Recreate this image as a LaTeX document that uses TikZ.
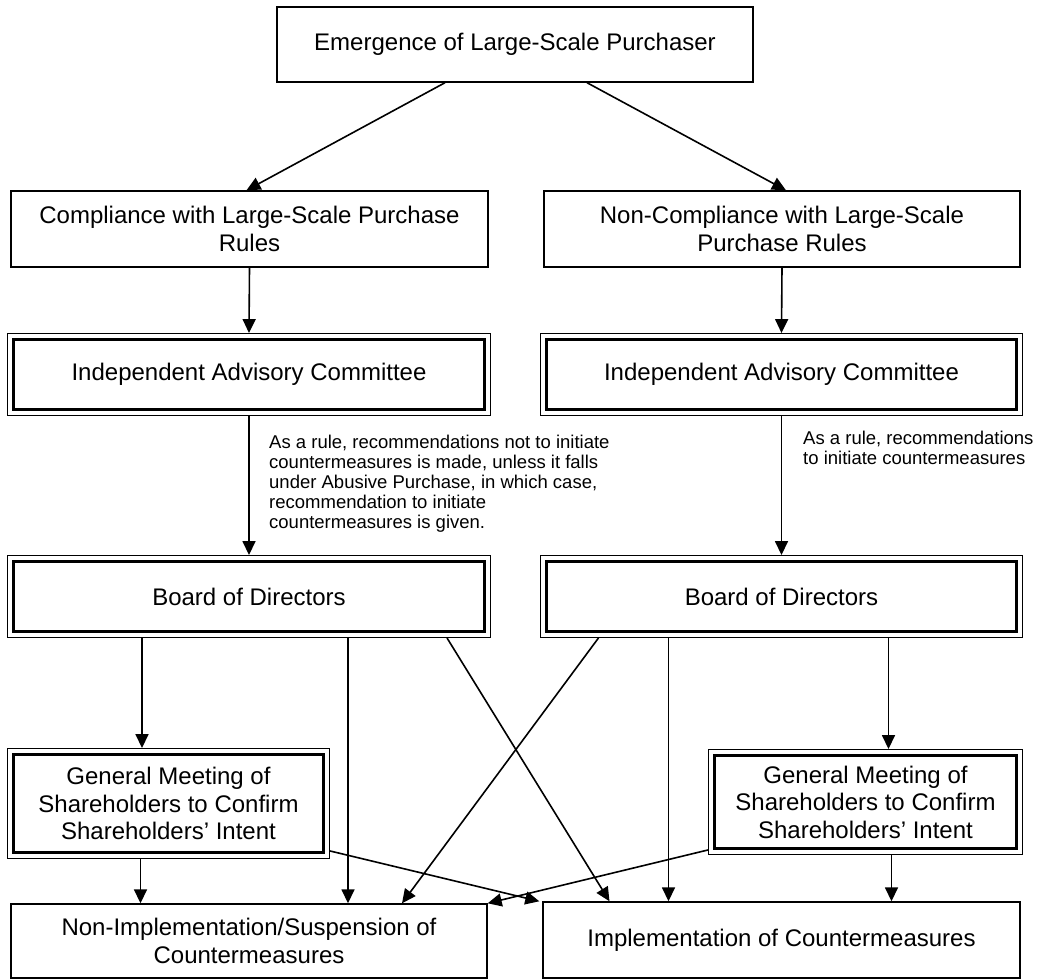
\documentclass[tikz,border=0pt]{standalone}
\usepackage{fontspec}
\setmainfont{Liberation Sans}
\usetikzlibrary{arrows.meta}
\newcommand{\boxfont}{\fontsize{24}{27.5}\selectfont}
\newcommand{\notefont}{\fontsize{18.5}{20}\selectfont}
\tikzset{
  box/.style={draw, line width=1.4pt, inner sep=0pt, align=center, font=\boxfont},
  dbox/.style={box, line width=2.6pt, outer sep=6.6pt},
  frame/.style={line width=1.3pt},
  arr/.style={-{Triangle[length=14pt,width=13pt]}, line width=1.6pt}
}
\begin{document}
\begin{tikzpicture}[x=1pt, y=-1pt]
            \useasboundingbox (0,0) rectangle (1037,979);
            \node[box,  minimum width=476pt,   minimum height=75pt]   (start) at (515.0, 44.5) {Emergence of Large-Scale Purchaser};
            \node[box,  minimum width=477pt,   minimum height=76pt]   (cmpL)  at (249.5,229.0) {Compliance with Large-Scale Purchase\\Rules};
            \node[box,  minimum width=476pt,   minimum height=76pt]   (cmpR)  at (782.0,229.0) {Non-Compliance with Large-Scale\\Purchase Rules};
            \node[dbox, minimum width=470.7pt, minimum height=69.7pt] (iacL)  at (249.0,374.5) {Independent Advisory Committee};
            \node[dbox, minimum width=469.7pt, minimum height=69.7pt] (iacR)  at (781.5,374.5) {Independent Advisory Committee};
            \node[dbox, minimum width=470.7pt, minimum height=69.7pt] (bodL)  at (249.0,596.5) {Board of Directors};
            \node[dbox, minimum width=469.7pt, minimum height=69.7pt] (bodR)  at (781.5,596.5) {Board of Directors};
            \node[dbox, minimum width=309.7pt, minimum height=97.7pt] (gmsL)  at (168.5,803.5) {General Meeting of\\Shareholders to Confirm\\Shareholders’ Intent};
            \node[dbox, minimum width=301.7pt, minimum height=92.7pt] (gmsR)  at (865.5,802.0) {General Meeting of\\Shareholders to Confirm\\Shareholders’ Intent};
            \node[box,  minimum width=476pt,   minimum height=74pt]   (nimL)  at (249.0,941.0) {Non-Implementation/Suspension of\\Countermeasures};
            \node[box,  minimum width=477pt,   minimum height=76pt]   (impR)  at (781.5,940.0) {Implementation of Countermeasures};
            \foreach \n in {iacL,iacR,bodL,bodR,gmsL,gmsR}
              \draw[frame] ([xshift=0.65pt,yshift=-0.65pt]\n.north west) rectangle ([xshift=-0.65pt,yshift=0.65pt]\n.south east);
            \node[anchor=north west, inner sep=0pt, align=left, font=\notefont] (noteL) at (269,435)
                 {As a rule, recommendations not to initiate\\countermeasures is made, unless it falls\\under Abusive Purchase, in which case,\\recommendation to initiate\\countermeasures is given.};
            \node[anchor=north west, inner sep=0pt, align=left, font=\notefont] (noteR) at (803,431)
                 {As a rule, recommendations\\to initiate countermeasures};
            \draw[arr] ([xshift=-70pt]start.south) -- ([xshift=-3pt]cmpL.north);
            \draw[arr] ([xshift=72pt]start.south)  -- ([xshift=4pt]cmpR.north);
            \draw[arr] (cmpL.south) -- (iacL.north);
            \draw[arr] (cmpR.south) -- (iacR.north);
            \draw[arr] (iacL.south) -- (bodL.north);
            \draw[arr] (iacR.south) -- (bodR.north);
            \draw[arr] ([xshift=-107pt]bodL.south) coordinate (p1) -- (p1 |- gmsL.north);
            \draw[arr] ([xshift=99pt]bodL.south)   coordinate (p2) -- (p2 |- nimL.north);
            \draw[arr] ([xshift=198pt]bodL.south)  -- ([xshift=-172pt]impR.north);
            \draw[arr] ([xshift=-183pt]bodR.south) -- ([xshift=153pt]nimL.north);
            \draw[arr] ([xshift=-113pt]bodR.south) coordinate (p3) -- (p3 |- impR.north);
            \draw[arr] ([xshift=107pt]bodR.south)  coordinate (p4) -- (p4 |- gmsR.north);
            \draw[arr] ([xshift=-28pt]gmsL.south)  coordinate (p5) -- (p5 |- nimL.north);
            \draw[arr] ([yshift=8pt]gmsL.south east)  -- ([xshift=-3pt]impR.north west);
            \draw[arr] ([yshift=5pt]gmsR.south west)  -- (nimL.north east);
            \draw[arr] ([xshift=26pt]gmsR.south)   coordinate (p6) -- (p6 |- impR.north);
\end{tikzpicture}
\end{document}
